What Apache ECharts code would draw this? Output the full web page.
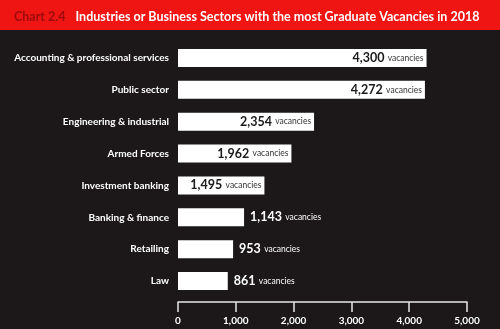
<!DOCTYPE html>
<html>
<head>
<meta charset="utf-8">
<script src="https://cdn.jsdelivr.net/npm/echarts@6/dist/echarts.min.js"></script>
<style>
  html, body { margin: 0; padding: 0; background: #1c181a; }
  #chart { width: 500px; height: 329px; }
</style>
</head>
<body>
<div id="chart"></div>
<script>
const sectors = [
  'Accounting & professional services',
  'Public sector',
  'Engineering & industrial',
  'Armed Forces',
  'Investment banking',
  'Banking & finance',
  'Retailing',
  'Law',
];
const vacancies = [4300, 4272, 2354, 1962, 1495, 1143, 953, 861];
const xTicks = [0, 1000, 2000, 3000, 4000, 5000];

const fmt = (v) => v.toLocaleString('en-US');
const font = 'Lato, "Open Sans", sans-serif';

const chart = echarts.init(document.getElementById('chart'));

// bars too short to hold their label get it on the outside, in white
const barData = vacancies.map((v) => {
  const inside = v >= 1400;
  return {
    value: v,
    label: {
      position: inside ? 'insideRight' : 'right',
      distance: inside ? 3 : 6,
      rich: {
        n: { fontFamily: font, fontWeight: 'bold', fontSize: 12.5, color: inside ? '#1a1a1a' : '#ffffff' },
        v: { fontFamily: font, fontSize: 8.5, color: inside ? '#333333' : '#ffffff' },
      },
    },
  };
});

const option = {
  backgroundColor: '#1c181a',
  animation: false,
  graphic: [
    { type: 'rect', left: 0, top: 0, shape: { width: 500, height: 30 }, style: { fill: '#ee1512' }, z: -1 },
  ],
  title: {
    left: 14,
    top: 8,
    padding: 0,
    text: '{a|Chart 2.4}  {b|Industries or Business Sectors with the most Graduate Vacancies in 2018}',
    textStyle: {
      rich: {
        a: { fontFamily: font, fontWeight: 'bold', fontSize: 12.5, color: '#9c0c0c' },
        b: { fontFamily: font, fontWeight: 'bold', fontSize: 12.5, color: '#ffffff' },
      },
    },
  },
  grid: { left: 178, right: 33, top: 42, bottom: 32 },
  xAxis: {
    type: 'value',
    min: xTicks[0],
    max: xTicks[xTicks.length - 1],
    interval: 1000,
    offset: 5,
    axisLine: { show: true, lineStyle: { color: '#e8e8e8', width: 1.5 } },
    axisTick: { show: true, length: 10, lineStyle: { color: '#e8e8e8', width: 1.5 } },
    axisLabel: {
      color: '#ffffff',
      fontFamily: font,
      fontWeight: 'bold',
      fontSize: 10,
      margin: 14,
      formatter: (v) => fmt(v),
    },
    splitLine: { show: false },
  },
  yAxis: {
    type: 'category',
    data: sectors,
    inverse: true,
    axisLine: { show: false },
    axisTick: { show: false },
    axisLabel: {
      color: '#ffffff',
      fontFamily: font,
      fontWeight: 'bold',
      fontSize: 10,
      margin: 9,
    },
  },
  series: [
    {
      type: 'bar',
      data: barData,
      barWidth: 18,
      itemStyle: { color: '#ffffff' },
      label: {
        show: true,
        formatter: (p) => '{n|' + fmt(p.value) + '} {v|vacancies}',
      },
    },
  ],
};

chart.setOption(option);
</script>
</body>
</html>
